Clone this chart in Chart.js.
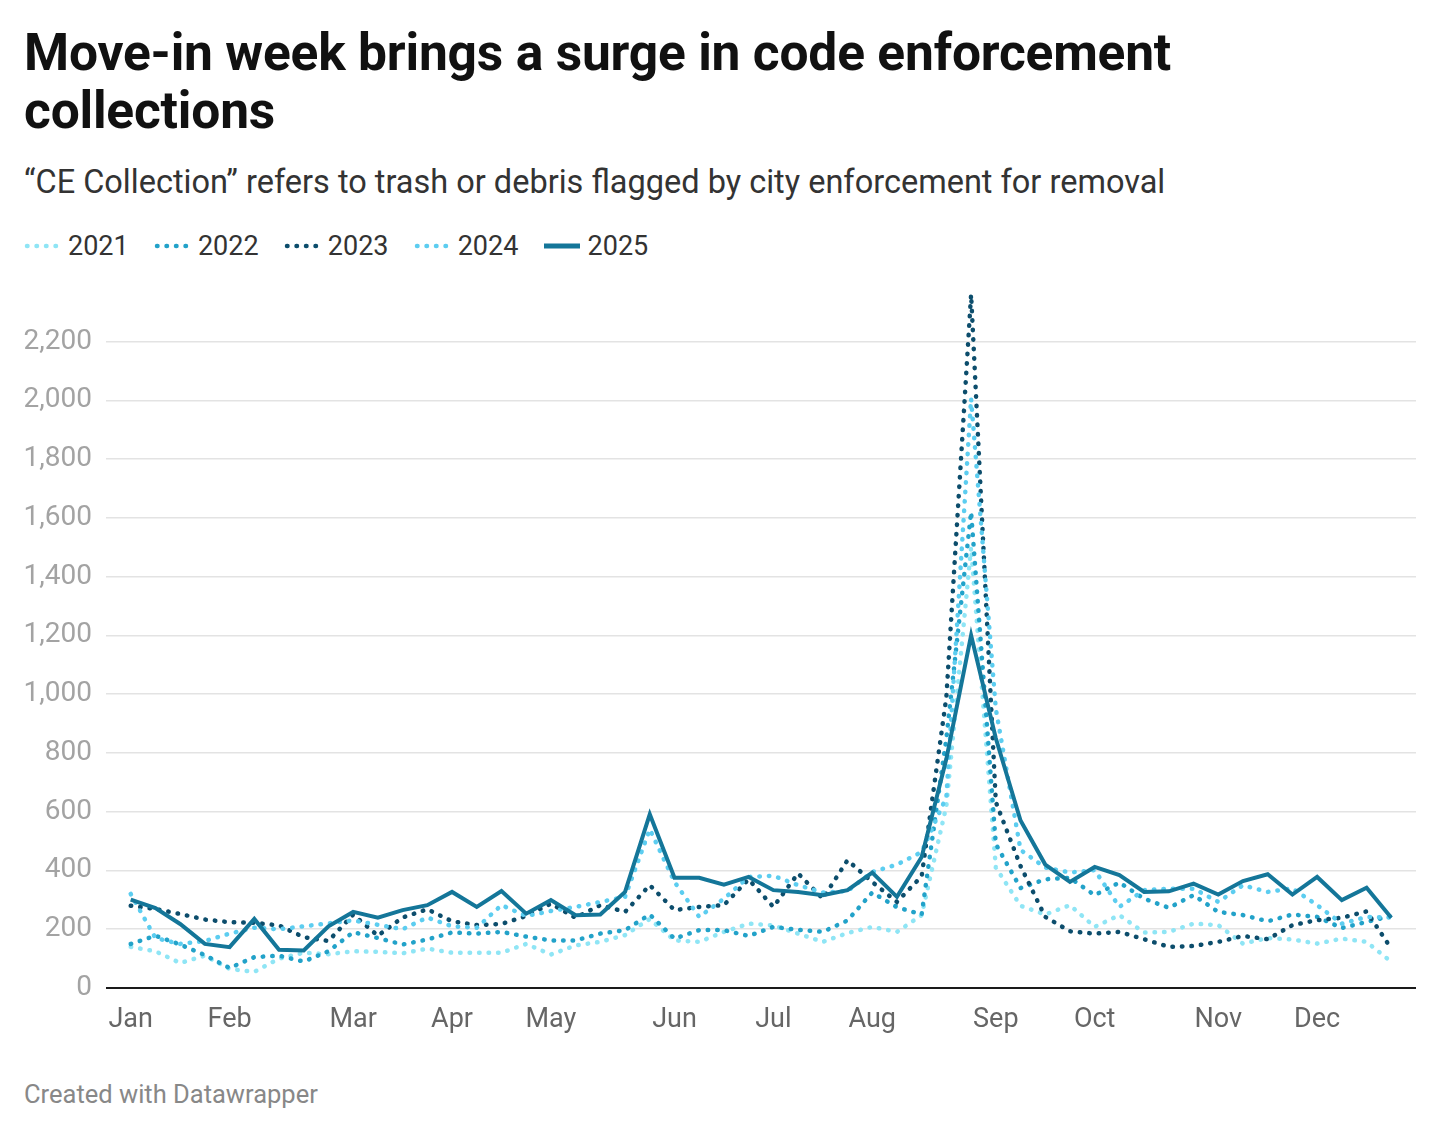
<!DOCTYPE html>
<html>
<head>
<meta charset="utf-8">
<script src="https://cdn.jsdelivr.net/npm/chart.js@4.4.1/dist/chart.umd.min.js"></script>
<style>
  body { margin: 0; background: #fff; font-family: Roboto, "Noto Sans", sans-serif; }
  #page { position: relative; width: 1440px; height: 1133px; overflow: hidden; }
  #title { position: absolute; left: 24px; top: 24px; width: 1300px; font-size: 51.5px; line-height: 58px; font-weight: 700; color: #111; letter-spacing: -0.2px; }
  #subtitle { position: absolute; left: 24px; top: 163px; font-size: 32.5px; line-height: 38px; color: #333; }
  #legend { position: absolute; left: 24px; top: 230px; height: 32px; display: flex; align-items: center; font-size: 27px; line-height: 32px; color: #333; }
  .item { display: flex; align-items: center; margin-right: 25.2px; }
  .item svg { margin-right: 6px; }
  #chartBox { position: absolute; left: 0; top: 252px; width: 1440px; height: 796px; }
  #footer { position: absolute; left: 24px; top: 1079px; font-size: 25.5px; line-height: 30px; color: #888; }
</style>
</head>
<body>
<div id="page">
  <div id="title">Move-in week brings a surge in code enforcement<br>collections</div>
  <div id="subtitle">“CE Collection” refers to trash or debris flagged by city enforcement for removal</div>
  <div id="legend"></div>
  <div id="chartBox"><canvas id="ceChart"></canvas></div>
  <div id="footer">Created with Datawrapper</div>
</div>
<script>
// week of year, one point per week
const weeks = [1, 2, 3, 4, 5, 6, 7, 8, 9, 10, 11, 12, 13, 14, 15, 16, 17, 18, 19, 20, 21, 22, 23, 24, 25, 26,
  27, 28, 29, 30, 31, 32, 33, 34, 35, 36, 37, 38, 39, 40, 41, 42, 43, 44, 45, 46, 47, 48, 49, 50, 51, 52];

// month ticks sit on the first week of each month
const monthLabels = ["Jan", "Feb", "Mar", "Apr", "May", "Jun", "Jul", "Aug", "Sep", "Oct", "Nov", "Dec"];
const monthWeeks = [1, 5, 10, 14, 18, 23, 27, 31, 36, 40, 45, 49];

const yTicks = [0, 200, 400, 600, 800, 1000, 1200, 1400, 1600, 1800, 2000, 2200];

const years = ["2021", "2022", "2023", "2024", "2025"];

const ce2021 = [140, 125, 85, 110, 65, 55, 100, 120, 115, 125, 123, 118, 134, 120, 120, 120, 150, 114, 145, 157,
  180, 235, 162, 157, 191, 219, 213, 185, 157, 187, 208, 191, 248, 620, 1500, 410, 280, 250, 282, 208,
  248, 189, 191, 219, 214, 151, 170, 165, 151, 168, 157, 89];
const ce2022 = [150, 178, 148, 112, 68, 105, 110, 90, 125, 190, 170, 148, 165, 189, 185, 191, 175, 162, 162, 185,
  197, 250, 168, 197, 197, 177, 208, 198, 191, 230, 325, 275, 250, 850, 1620, 490, 340, 370, 375, 316,
  359, 304, 273, 316, 259, 248, 227, 250, 242, 204, 225, 245];
const ce2023 = [280, 269, 252, 233, 224, 222, 213, 173, 160, 250, 178, 240, 268, 227, 214, 218, 245, 287, 239, 282,
  259, 350, 265, 276, 282, 370, 276, 390, 304, 435, 361, 293, 380, 990, 2360, 633, 415, 242, 193, 185,
  191, 166, 140, 143, 157, 177, 166, 214, 231, 239, 261, 134];
const ce2024 = [320, 170, 150, 160, 185, 205, 200, 210, 220, 230, 215, 200, 240, 210, 205, 282, 245, 262, 276, 293,
  310, 540, 361, 242, 304, 378, 382, 350, 325, 330, 395, 420, 463, 650, 2006, 950, 470, 410, 393, 401,
  276, 333, 338, 338, 293, 350, 327, 339, 282, 219, 242, 240];
const ce2025 = [301, 272, 218, 150, 139, 235, 130, 128, 210, 259, 239, 265, 282, 327, 276, 330, 253, 299, 248, 250,
  327, 591, 375, 375, 352, 378, 333, 327, 316, 333, 393, 310, 446, 780, 1200, 850, 570, 420, 361, 412,
  384, 327, 329, 355, 318, 364, 387, 318, 378, 299, 341, 239];

const seriesValues = [ce2021, ce2022, ce2023, ce2024, ce2025];
const colors = ["#8fe5f5", "#22a2c9", "#0c4d6c", "#5ccdf0", "#147699"];

function toPoints(values) {
  return values.map((v, i) => ({ x: weeks[i], y: v }));
}

const datasets = years.map((year, i) => {
  const solid = year === "2025";
  return {
    label: year,
    data: toPoints(seriesValues[i]),
    borderColor: colors[i],
    borderWidth: solid ? 4 : 4.5,
    borderDash: solid ? [] : [0.5, 9],
    borderCapStyle: solid ? "butt" : "round",
    borderJoinStyle: "miter",
    pointRadius: 0,
    tension: 0,
    order: solid ? 0 : 5 - i
  };
});

// html legend, dotted samples drawn as svg lines
const legendDiv = document.getElementById("legend");
years.forEach((year, i) => {
  const solid = year === "2025";
  const dash = solid ? "" : 'stroke-dasharray="0.5 9" stroke-linecap="round"';
  legendDiv.innerHTML += `
    <span class="item">
      <svg width="38" height="8"><line x1="${solid ? 0 : 3}" y1="4" x2="${solid ? 36 : 38}" y2="4"
        stroke="${colors[i]}" stroke-width="${solid ? 5 : 4.5}" ${dash}/></svg>
      <span>${year}</span>
    </span>`;
});

new Chart(document.getElementById("ceChart"), {
  type: "line",
  data: { datasets: datasets },
  options: {
    responsive: true,
    maintainAspectRatio: false,
    animation: false,
    layout: { padding: { top: 12, right: 24, bottom: 0, left: 0 } },
    plugins: {
      legend: { display: false },
      tooltip: { enabled: false }
    },
    scales: {
      x: {
        type: "linear",
        min: 0,
        max: 53,
        afterBuildTicks: (scale) => { scale.ticks = monthWeeks.map(w => ({ value: w })); },
        afterFit: (scale) => { scale.height = 60; },
        grid: { display: false, drawTicks: false },
        border: { display: false },
        ticks: {
          autoSkip: false,
          maxRotation: 0,
          padding: 16,
          color: "#666",
          font: { family: "Roboto", size: 27 },
          callback: (value) => monthLabels[monthWeeks.indexOf(value)]
        }
      },
      y: {
        min: 0,
        max: 2400,
        afterBuildTicks: (scale) => { scale.ticks = yTicks.map(v => ({ value: v })); },
        afterFit: (scale) => { scale.width = 106; },
        grid: {
          drawTicks: false,
          color: (ctx) => ctx.tick && ctx.tick.value === 0 ? "#1a1a1a" : "#e3e3e3",
          lineWidth: (ctx) => ctx.tick && ctx.tick.value === 0 ? 2 : 1.5
        },
        border: { display: false },
        ticks: {
          padding: 14,
          color: "#a3a3a3",
          font: { family: "Roboto", size: 28 },
          callback: (value) => value.toLocaleString("en-US")
        }
      }
    }
  }
});
</script>
</body>
</html>
